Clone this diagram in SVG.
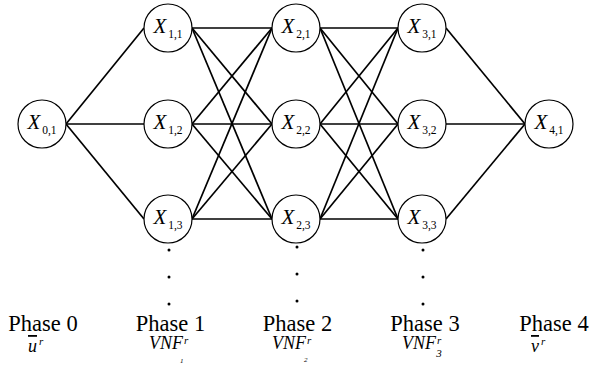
<svg xmlns="http://www.w3.org/2000/svg" width="591" height="366" viewBox="0 0 591 366" font-family="Liberation Serif, Times New Roman, DejaVu Serif, serif">
<style>
.node circle{fill:#fff;stroke:#000;stroke-width:1.2}
.lbl{font-size:21px;fill:#000}
.x{font-style:italic}
.sub{font-size:11.5px;font-style:normal}
#edges line{stroke:#000;stroke-width:1.7}
.ph{font-size:22.5px;fill:#000;text-anchor:middle}
.it{font-style:italic;fill:#000}
.dot{fill:#000}
</style>
<rect width="591" height="366" fill="#fff"/>
<g id="edges">
<line x1="66" y1="124" x2="144" y2="28"/>
<line x1="66" y1="124" x2="144" y2="124"/>
<line x1="66" y1="124" x2="144" y2="219"/>
<line x1="192" y1="28" x2="272" y2="28"/>
<line x1="192" y1="28" x2="272" y2="124"/>
<line x1="192" y1="28" x2="272" y2="219"/>
<line x1="192" y1="124" x2="272" y2="28"/>
<line x1="192" y1="124" x2="272" y2="124"/>
<line x1="192" y1="124" x2="272" y2="219"/>
<line x1="192" y1="219" x2="272" y2="28"/>
<line x1="192" y1="219" x2="272" y2="124"/>
<line x1="192" y1="219" x2="272" y2="219"/>
<line x1="320" y1="28" x2="398" y2="28"/>
<line x1="320" y1="28" x2="398" y2="124"/>
<line x1="320" y1="28" x2="398" y2="219"/>
<line x1="320" y1="124" x2="398" y2="28"/>
<line x1="320" y1="124" x2="398" y2="124"/>
<line x1="320" y1="124" x2="398" y2="219"/>
<line x1="320" y1="219" x2="398" y2="28"/>
<line x1="320" y1="219" x2="398" y2="124"/>
<line x1="320" y1="219" x2="398" y2="219"/>
<line x1="446" y1="28" x2="525" y2="124"/>
<line x1="446" y1="124" x2="525" y2="124"/>
<line x1="446" y1="219" x2="525" y2="124"/>
</g>
<g id="X01" class="node"><circle cx="42" cy="124" r="24"/><text class="lbl" x="42" y="129" text-anchor="middle"><tspan class="x">X</tspan><tspan class="sub" dx="2" dy="5">0,1</tspan></text></g>
<g id="X11" class="node"><circle cx="168" cy="28" r="24"/><text class="lbl" x="168" y="33" text-anchor="middle"><tspan class="x">X</tspan><tspan class="sub" dx="2" dy="5">1,1</tspan></text></g>
<g id="X12" class="node"><circle cx="168" cy="124" r="24"/><text class="lbl" x="168" y="129" text-anchor="middle"><tspan class="x">X</tspan><tspan class="sub" dx="2" dy="5">1,2</tspan></text></g>
<g id="X13" class="node"><circle cx="168" cy="219" r="24"/><text class="lbl" x="168" y="224" text-anchor="middle"><tspan class="x">X</tspan><tspan class="sub" dx="2" dy="5">1,3</tspan></text></g>
<g id="X21" class="node"><circle cx="296" cy="28" r="24"/><text class="lbl" x="296" y="33" text-anchor="middle"><tspan class="x">X</tspan><tspan class="sub" dx="2" dy="5">2,1</tspan></text></g>
<g id="X22" class="node"><circle cx="296" cy="124" r="24"/><text class="lbl" x="296" y="129" text-anchor="middle"><tspan class="x">X</tspan><tspan class="sub" dx="2" dy="5">2,2</tspan></text></g>
<g id="X23" class="node"><circle cx="296" cy="219" r="24"/><text class="lbl" x="296" y="224" text-anchor="middle"><tspan class="x">X</tspan><tspan class="sub" dx="2" dy="5">2,3</tspan></text></g>
<g id="X31" class="node"><circle cx="422" cy="28" r="24"/><text class="lbl" x="422" y="33" text-anchor="middle"><tspan class="x">X</tspan><tspan class="sub" dx="2" dy="5">3,1</tspan></text></g>
<g id="X32" class="node"><circle cx="422" cy="124" r="24"/><text class="lbl" x="422" y="129" text-anchor="middle"><tspan class="x">X</tspan><tspan class="sub" dx="2" dy="5">3,2</tspan></text></g>
<g id="X33" class="node"><circle cx="422" cy="219" r="24"/><text class="lbl" x="422" y="224" text-anchor="middle"><tspan class="x">X</tspan><tspan class="sub" dx="2" dy="5">3,3</tspan></text></g>
<g id="X41" class="node"><circle cx="549" cy="124" r="24"/><text class="lbl" x="549" y="129" text-anchor="middle"><tspan class="x">X</tspan><tspan class="sub" dx="2" dy="5">4,1</tspan></text></g>
<g id="dots">
<circle class="dot" cx="169" cy="250" r="1.5"/><circle class="dot" cx="169" cy="277" r="1.5"/><circle class="dot" cx="169" cy="304" r="1.5"/>
<circle class="dot" cx="297" cy="247" r="1.5"/><circle class="dot" cx="297" cy="274" r="1.5"/><circle class="dot" cx="297" cy="301" r="1.5"/>
<circle class="dot" cx="423" cy="250" r="1.5"/><circle class="dot" cx="423" cy="277" r="1.5"/><circle class="dot" cx="423" cy="304" r="1.5"/>
</g>
<g id="phases">
<text class="ph" x="43" y="331">Phase 0</text>
<text class="ph" x="170.5" y="331">Phase 1</text>
<text class="ph" x="297.5" y="331">Phase 2</text>
<text class="ph" x="425" y="331">Phase 3</text>
<text class="ph" x="554" y="331">Phase 4</text>
</g>
<g id="sublabels">
<text class="it" x="28" y="352" font-size="18"><tspan text-decoration="overline">u</tspan><tspan dx="2" dy="-7" font-size="11">r</tspan></text>
<text class="it" x="149" y="349" font-size="18">VNF<tspan dx="1" dy="-5" font-size="11">r</tspan></text>
<text class="it" x="180" y="363" font-size="7">1</text>
<text class="it" x="272" y="349" font-size="18">VNF<tspan dx="1" dy="-5" font-size="11">r</tspan></text>
<text class="it" x="304" y="362" font-size="7">2</text>
<text class="it" x="402" y="349" font-size="18">VNF<tspan dx="1" dy="-5" font-size="11">r</tspan><tspan dx="-5" dy="13" font-size="11">3</tspan></text>
<text class="it" x="531" y="352" font-size="18"><tspan text-decoration="overline">v</tspan><tspan dx="2" dy="-7" font-size="11">r</tspan></text>
</g>
</svg>
